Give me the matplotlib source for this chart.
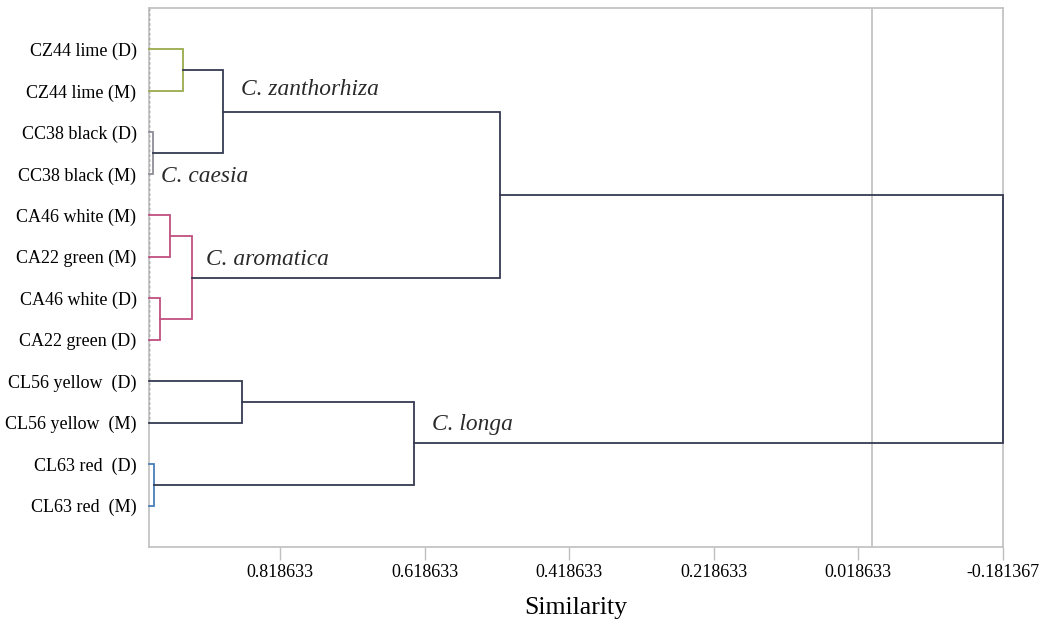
import matplotlib
matplotlib.use("Agg")
import matplotlib.pyplot as plt

# Leaf labels, top to bottom
leaves = [
    "CZ44 lime (D)", "CZ44 lime (M)",
    "CC38 black (D)", "CC38 black (M)",
    "CA46 white (M)", "CA22 green (M)",
    "CA46 white (D)", "CA22 green (D)",
    "CL56 yellow  (D)", "CL56 yellow  (M)",
    "CL63 red  (D)", "CL63 red  (M)",
]
leaf_similarity = 1.0

# Merge steps: (left child, right child, similarity); new node ids continue after the leaves
merge_left = [0, 2, 12, 4, 6, 15, 14, 8, 10, 19, 18]
merge_right = [1, 3, 13, 5, 7, 16, 17, 9, 11, 20, 21]
merge_similarity = [0.953, 0.994, 0.897, 0.971, 0.985, 0.940, 0.515,
                    0.871, 0.993, 0.633, -0.181367]
merge_color = ["#9AAB4C", "#8E8E96", "#353A52", "#C0507F", "#C0507F",
               "#C0507F", "#353A52", "#353A52", "#4A7EBB", "#353A52",
               "#353A52"]

clade_names = ["C. zanthorhiza", "C. caesia", "C. aromatica", "C. longa"]
clade_pos = [(0.8725, 1.97), (0.983, 4.06), (0.921, 6.06), (0.608, 10.04)]

x_ticks = [0.818633, 0.618633, 0.418633, 0.218633, 0.018633, -0.181367]
x_min, x_max = -0.181367, 1.0

serif = ["Liberation Serif", "DejaVu Serif"]
plt.rcParams["font.family"] = serif

fig = plt.figure(figsize=(10.47, 6.2), dpi=100)
ax = fig.add_axes([149 / 1047, 1 - 547 / 620, (1003 - 149) / 1047, (547 - 8) / 620])

frame = "#BFBFBF"
n = len(leaves)
ypos = {i: i + 1 for i in range(n)}
height = {i: leaf_similarity for i in range(n)}

# reference line at zero similarity
ax.axvline(0.0, color=frame, lw=1.2, zorder=1)

for k, (a, b, h, c) in enumerate(zip(merge_left, merge_right, merge_similarity, merge_color)):
    node = n + k
    ya, yb = ypos[a], ypos[b]
    ax.plot([height[a], h, h, height[b]], [ya, ya, yb, yb], color=c, lw=1.3,
            solid_joinstyle="miter", clip_on=False, zorder=3)
    ypos[node] = (ya + yb) / 2
    height[node] = h

# leaf baseline
ax.plot([leaf_similarity, leaf_similarity], [0, 10], color="#555555", lw=1.0,
        ls=(0, (2, 1.5)), zorder=2)

for name, (xv, yv) in zip(clade_names, clade_pos):
    ax.text(xv, yv, name, fontsize=16.8, style="italic", color="#2A2A2A",
            ha="left", va="center")

ax.set_xlim(x_max, x_min)
ax.set_ylim(n + 1, 0)
ax.set_xticks(x_ticks)
ax.set_xticklabels([f"{t:.6f}" for t in x_ticks], fontsize=13)
ax.set_yticks(range(1, n + 1))
ax.set_yticklabels(leaves, fontsize=13)
ax.tick_params(axis="y", length=0, pad=9)
ax.tick_params(axis="x", length=9, width=1.0, color=frame, pad=3, direction="out")
for s in ax.spines.values():
    s.set_color(frame)
    s.set_linewidth(1.2)
ax.set_xlabel("Similarity", fontsize=18.5, labelpad=12)

fig.savefig("out.png", dpi=100)
